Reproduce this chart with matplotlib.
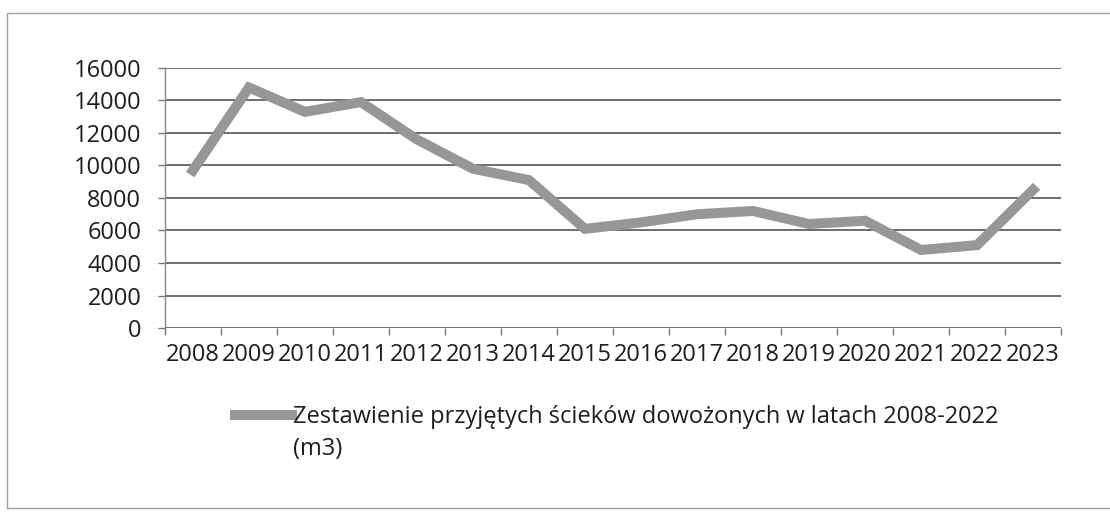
import matplotlib
matplotlib.use("Agg")
import matplotlib.pyplot as plt
from matplotlib.patches import Rectangle
from matplotlib.ticker import FixedLocator

# dane (m3)
years = ["2008", "2009", "2010", "2011", "2012", "2013", "2014", "2015",
         "2016", "2017", "2018", "2019", "2020", "2021", "2022", "2023"]
volumes = [9700, 14800, 13300, 13900, 11600, 9800, 9100, 6100,
           6500, 7000, 7200, 6400, 6600, 4800, 5100, 8500]
y_ticks = [0, 2000, 4000, 6000, 8000, 10000, 12000, 14000, 16000]
series_label = "Zestawienie przyjętych ścieków dowożonych w latach 2008-2022"
label_cont = "(m3)"

plt.rcParams['font.family'] = ['Open Sans', 'DejaVu Sans']
FS = 17

fig = plt.figure(figsize=(11.10, 5.15), dpi=100)
ax = fig.add_axes([0.1486, 0.3631, 0.8073, 0.5049])

x = list(range(len(years)))
ax.plot(x, volumes, color="#979797", linewidth=7.2, solid_joinstyle="miter",
        label=series_label, zorder=3)

ax.set_xlim(-0.5, len(years) - 0.5)
ax.set_ylim(0, 16000)
ax.set_yticks(y_ticks)
ax.set_yticklabels([str(v) for v in y_ticks])
ax.set_xticks(x)
ax.set_xticklabels(years)
ax.xaxis.set_minor_locator(FixedLocator([i - 0.5 for i in range(len(years) + 1)]))

ax.tick_params(axis="x", which="major", length=0, pad=11, labelsize=FS, colors="#1e1e1e")
ax.tick_params(axis="x", which="minor", length=5, width=1, color="#777777")
ax.tick_params(axis="y", length=5, width=1, color="#777777", pad=12,
               labelsize=FS, labelcolor="#1e1e1e")

ax.grid(axis="y", color="#555555", linewidth=1.2, zorder=1)
ax.set_axisbelow(True)
for side in ["top", "right", "bottom"]:
    ax.spines[side].set_visible(False)
ax.spines["left"].set_color("#888888")
ax.spines["left"].set_linewidth(1)

leg = ax.legend(loc="upper left", bbox_to_anchor=(0.055, -0.215), frameon=False,
                fontsize=FS, handlelength=2.4, handletextpad=0.05,
                labelcolor="#1e1e1e")

# druga linia opisu serii, pod tekstem legendy
fig.canvas.draw()
tb = leg.get_texts()[0].get_window_extent()
fig.text(tb.x0 / fig.bbox.width, (tb.y0 - 8) / fig.bbox.height, label_cont,
         fontsize=FS, color="#1e1e1e", ha="left", va="top")

# ramka obszaru wykresu
fig.patches.append(Rectangle((0.0063, 0.0136), 1.1, 0.9612, transform=fig.transFigure,
                             fill=False, edgecolor="#a0a0a0", linewidth=1))

fig.savefig("out.png", dpi=100)
